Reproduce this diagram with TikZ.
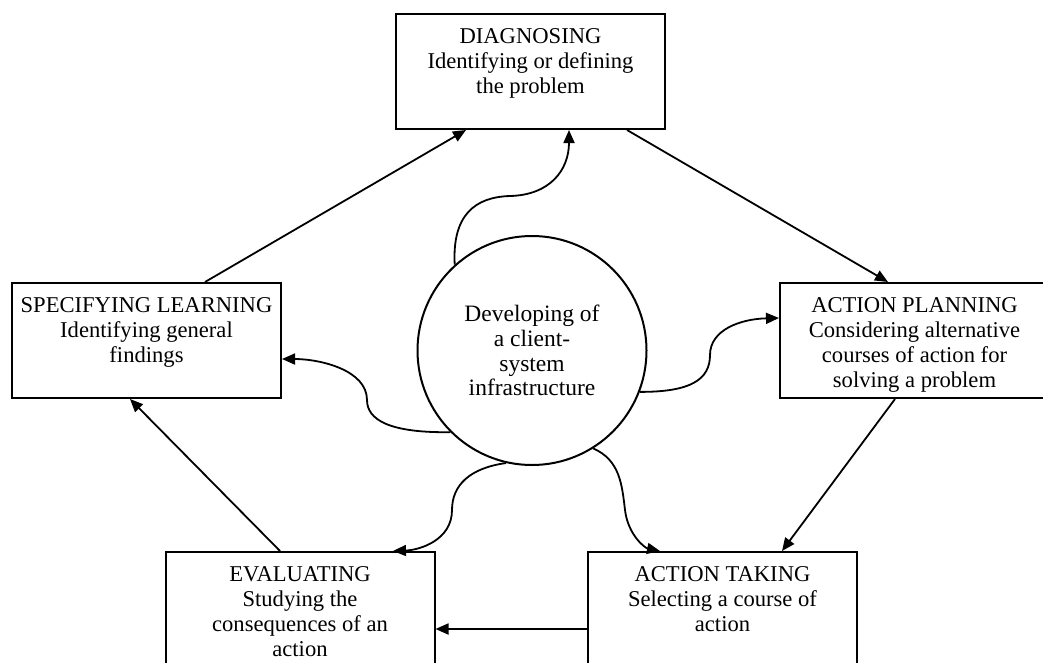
\documentclass[tikz,border=0pt]{standalone}
\usepackage{fontspec}
\setmainfont{Liberation Serif}
\usetikzlibrary{arrows.meta,calc}
% text block of a stage box: lines hang from the top edge
\newcommand\stagetext[1]{\parbox[t][115pt][t]{269pt}{\centering\fontsize{22.6}{25}\selectfont\rule{0pt}{29pt}#1}}
\begin{document}
\begin{tikzpicture}[x=1pt,y=-1pt,
  stage/.style={draw, line width=2pt, inner sep=0pt, minimum width=269pt, minimum height=115pt},
  hub/.style={draw, circle, line width=2pt, inner sep=0pt, minimum size=229pt, align=center,
    font=\fontsize{23.5}{24.7}\selectfont},
  link/.style={line width=1.8pt, -{Triangle[length=13pt,width=11pt]}}]
\useasboundingbox (0,0) rectangle (1043,662);

% the five stages of the cycle
\node[stage] (diag) at (530.5,71.5) {\stagetext{DIAGNOSING\\Identifying or defining\\the problem}};
\node[stage] (spec) at (146.5,340.5) {\stagetext{SPECIFYING LEARNING\\Identifying general\\findings}};
\node[stage] (plan) at (914.5,340.5) {\stagetext{ACTION PLANNING\\Considering alternative\\courses of action for\\solving a problem}};
\node[stage] (eval) at (300,609.5) {\stagetext{EVALUATING\\Studying the\\consequences of an\\action}};
\node[stage] (take) at (722.5,609.5) {\stagetext{ACTION TAKING\\Selecting a course of\\action}};

% the infrastructure at the centre
\node[hub] (core) at (532,350.5) {Developing of\\a client-\\system\\infrastructure};

% the cycle
\draw[link] ($(spec.north)+(58.5,0)$) -- ($(diag.south)+(-64.5,0)$);
\draw[link] ($(diag.south)+(96.5,0)$) -- ($(plan.north)+(-26.5,0)$);
\draw[link] ($(plan.south)+(-19.5,0)$) -- ($(take.north)+(59.5,0)$);
\draw[link] ($(take.west)+(0,19.5)$) -- ($(eval.east)+(0,19.5)$);
\draw[link] ($(eval.north)+(-20,0)$) -- ($(spec.south)+(-16.5,0)$);

% wavy links from the centre to every stage
\draw[link] (core.132.7) .. controls (452,215) and (475,197) .. (510,196)
  .. controls (550,195) and (569,170) .. ($(diag.south)+(38.5,0)$);
\draw[link] (core.225.5) .. controls (390,433) and (367,420) .. (367,400)
  .. controls (367,370) and (320,359) .. ($(spec.east)+(0,18.5)$);
\draw[link] (core.-21.9) .. controls (690,392) and (710,380) .. (710,355)
  .. controls (710,330) and (740,319) .. ($(plan.west)+(0,-22.5)$);
\draw[link] (core.257.5) .. controls (470,468) and (452,485) .. (452,510)
  .. controls (452,540) and (420,550) .. ($(eval.north)+(93,0)$);
\draw[link] (core.-58.9) .. controls (620,460) and (622,485) .. (625,510)
  .. controls (628,535) and (645,548) .. ($(take.north)+(-62.5,0)$);
\end{tikzpicture}
\end{document}
